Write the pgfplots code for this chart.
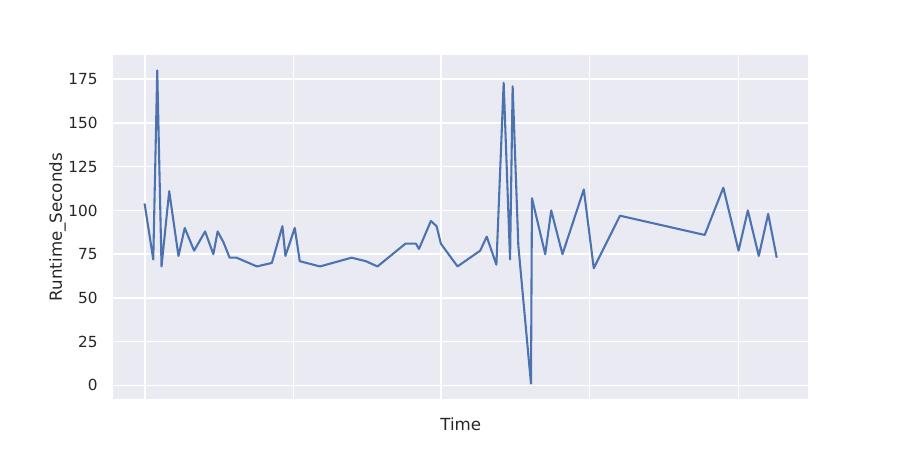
\documentclass[border=0pt]{standalone}
\usepackage{pgfplots}
\pgfplotsset{compat=1.18}
\usepackage{fontspec}
\setmainfont{DejaVu Sans}
\definecolor{sbbg}{HTML}{EAEAF2}
\definecolor{sbline}{HTML}{4C72B0}
\definecolor{sbtext}{HTML}{262626}
\begin{document}
\begin{tikzpicture}[x=1pt,y=1pt]
\path[use as bounding box] (0,0) rectangle (648,324);
\begin{axis}[
  at={(81.5pt,36.5pt)}, anchor=south west,
  scale only axis, width=500.5pt, height=248pt,
  xmin=112.5, xmax=810, ymin=-7.95, ymax=188.95,
  axis background/.style={fill=sbbg},
  axis line style={draw=none},
  major tick length=0pt,
  grid=major, grid style={white, line width=1.1pt},
  xtick={144.3,293.5,441.3,590.3,739.7}, xticklabels={},
  ytick={0,25,...,175},
  /pgf/number format/assume math mode=true,
  tick label style={font=\fontsize{11}{13}\selectfont, text=sbtext},
  yticklabel style={inner sep=0pt, xshift=-11pt},
  xlabel={Time}, ylabel={Runtime\_Seconds},
  label style={font=\fontsize{12}{14}\selectfont, text=sbtext},
  xlabel style={at={(axis description cs:0.5,0)}, anchor=north, inner sep=0pt, yshift=-13.5pt},
  ylabel style={at={(axis description cs:0,0.5)}, anchor=south, inner sep=0pt, rotate=0, xshift=0pt, yshift=34pt},
  clip=false,
]
\addplot[sbline, line width=1.5pt, line join=round] coordinates {
(144,104) (152.7,72) (156.7,180) (161,68) (168.7,111) (178,74) (184.3,90)
(193.7,77) (204.7,88) (213,75) (217.3,88) (223,82) (229.3,73) (236.3,73)
(256.7,68) (271.7,70) (282.3,91) (285.3,74) (294.7,90) (299.7,71) (320,68)
(351.7,73) (366,71) (377.7,68) (405.7,81) (416.3,81) (419.3,78) (431.3,94)
(437,91) (441.3,81) (458,68) (480.7,77) (487.3,85) (497,69) (504.3,173)
(510.7,72) (513.3,171) (519,80) (531.7,1) (532.7,107) (546,75) (552,100)
(563.3,75) (584.7,112) (594.7,67) (621,97) (706,86) (724.7,113) (740,77)
(749.3,100) (760.3,74) (769.7,98) (778.3,73)
};
\end{axis}
\end{tikzpicture}
\end{document}
